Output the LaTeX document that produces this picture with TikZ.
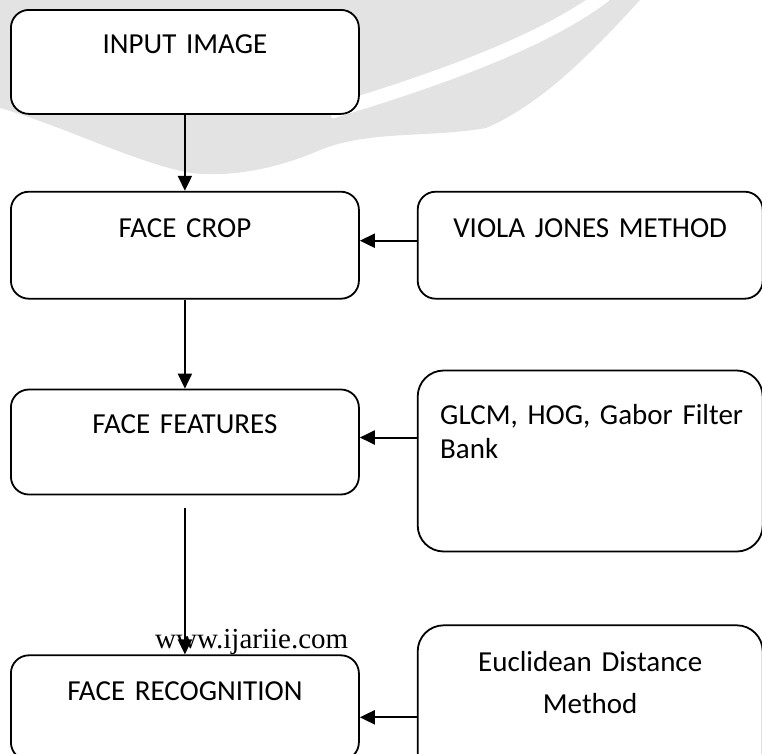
\documentclass[tikz,border=0pt]{standalone}
\usepackage{fontspec}
\setmainfont{Carlito}
\newfontfamily\urlfont{Liberation Serif}
\usepackage{tikz}
\usetikzlibrary{arrows.meta, positioning}
\definecolor{wmgray}{gray}{0.89}
\tikzset{
  block/.style={rectangle, rounded corners=18pt, draw=black, line width=1.8pt, fill=white,
                text width=348pt, inner xsep=0pt, inner ysep=0pt, align=center,
                font=\fontsize{29pt}{34pt}\selectfont, text height=45pt, text depth=60pt},
  sideblock/.style={block, text width=345pt},
  tallblock/.style={sideblock, rounded corners=26pt},
  arrow/.style={-{Triangle[length=15pt,width=14pt]}, line width=2pt},
  urllabel/.style={font=\urlfont\fontsize{29pt}{34pt}\selectfont, inner sep=0pt},
}

\begin{document}
\begin{tikzpicture}[x=1pt, y=-1pt]
  \useasboundingbox (0,0) rectangle (762,753);
  \clip (0,0) rectangle (762,753);

  %% ---- WATERMARK ----
  \fill[wmgray] (0,0) -- (640,0) .. controls (590,55) and (540,105) .. (486,128)
    .. controls (430,138) and (370,130) .. (320,150)
    .. controls (270,172) and (220,178) .. (185,172)
    .. controls (130,160) and (60,125) .. (0,108) -- cycle;
  \draw[white, line width=14pt] (330,112) .. controls (420,85) and (540,45) .. (605,-5);

  %% ---- MAIN CHAIN ----
  \node[block, anchor=north west, text height=44pt, text depth=60pt] (input) at (10,9) {INPUT IMAGE};
  \node[block, below=76pt of input, text height=46pt, text depth=61pt] (crop) {FACE CROP};
  \node[block, below=89pt of crop, text height=44pt, text depth=61pt] (feat) {FACE FEATURES};
  \node[urllabel, anchor=base west] (url) at (155,648) {www.ijariie.com};
  \node[block, below=159pt of feat] (recog) {FACE RECOGNITION};

  \draw[arrow] (input) -- (crop);
  \draw[arrow] (crop) -- (feat);
  \draw[arrow, shorten <=13pt] (feat) -- (recog);

  %% ---- METHODS ----
  \node[sideblock, right=57pt of crop, text height=46pt, text depth=61pt] (viola) {VIOLA JONES METHOD};
  \node[tallblock, right=57pt of feat.north east, anchor=north west, yshift=19pt,
        text width=300pt, inner xsep=22.5pt, align=left, text height=54pt, text depth=127pt] (glcm)
        {\mbox{GLCM, HOG, Gabor Filter}\\Bank};
  \node[tallblock, right=57pt of recog.north east, anchor=north west, yshift=30pt,
        text height=46pt, text depth=135pt] (eucl) {Euclidean Distance\\[8pt]Method};

  \draw[arrow] ([yshift=4.5pt]viola.west) -- ([yshift=4.5pt]crop.east);
  \draw[arrow] ([yshift=4.5pt]glcm.west |- feat.east) -- ([yshift=4.5pt]feat.east);
  \draw[arrow] ([yshift=-9.5pt]eucl.west |- recog.east) -- ([yshift=-9.5pt]recog.east);

\end{tikzpicture}
\end{document}
